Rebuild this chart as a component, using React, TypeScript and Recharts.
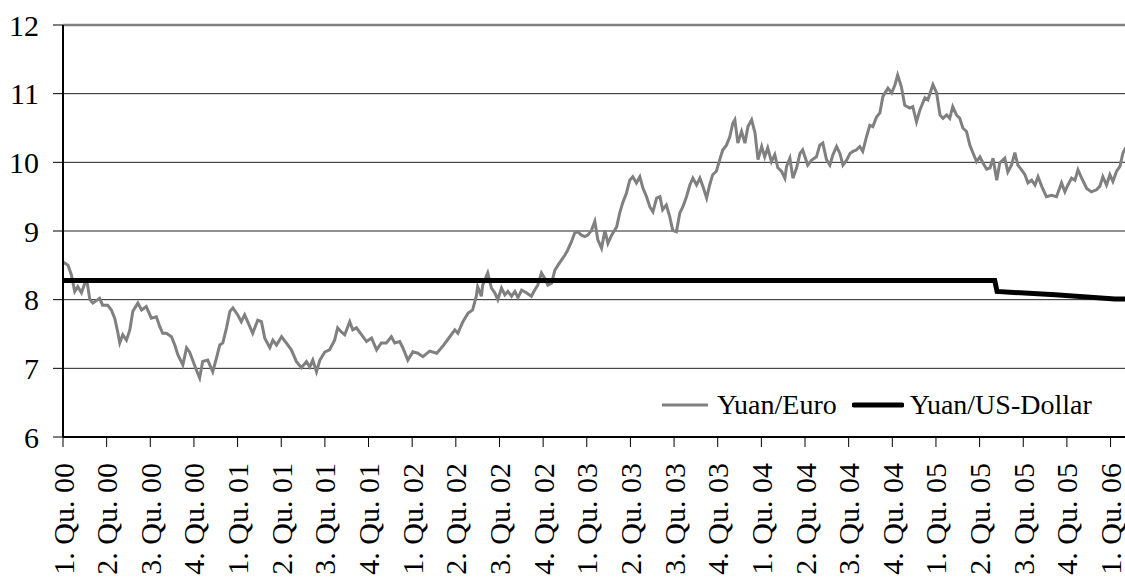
import React from 'react';
import { LineChart, Line, XAxis, YAxis, CartesianGrid, ReferenceLine, Legend } from 'recharts';

const FONT = 'Liberation Serif, Times New Roman, serif';

// x values are in weeks since the start of 2000 (13 weeks per quarter)
const quarterLabels = [
  '1. Qu. 00', '2. Qu. 00', '3. Qu. 00', '4. Qu. 00',
  '1. Qu. 01', '2. Qu. 01', '3. Qu. 01', '4. Qu. 01',
  '1. Qu. 02', '2. Qu. 02', '3. Qu. 02', '4. Qu. 02',
  '1. Qu. 03', '2. Qu. 03', '3. Qu. 03', '4. Qu. 03',
  '1. Qu. 04', '2. Qu. 04', '3. Qu. 04', '4. Qu. 04',
  '1. Qu. 05', '2. Qu. 05', '3. Qu. 05', '4. Qu. 05',
  '1. Qu. 06',
];
const WEEKS_PER_QUARTER = 13;
const xTicks = quarterLabels.map((_, i) => i * WEEKS_PER_QUARTER);
const xDomainEnd = 316.9;
const yTicks = [6, 7, 8, 9, 10, 11, 12];
const gridValues = [7, 8, 9, 10, 11];
const seriesNames = ['Yuan/Euro', 'Yuan/US-Dollar'];

const euro2000 = [[0,8.55],[1.5,8.50],[2.5,8.36],[3.5,8.12],[4.4,8.19],[5.5,8.10],[6.5,8.24],[7.0,8.31],[8.0,8.00],[8.9,7.95],[10.9,8.02],[11.8,7.92],[13.3,7.92],[14.4,7.85],[15.4,7.73],[16.3,7.53],[16.9,7.37],[17.8,7.49],[18.9,7.41],[19.9,7.56],[20.8,7.83],[22.3,7.95],[23.4,7.85],[24.8,7.90],[26.3,7.73],[27.8,7.75],[28.8,7.61],[29.7,7.51],[30.8,7.51],[32.3,7.46],[33.3,7.34],[34.2,7.20],[35.7,7.05],[36.8,7.30],[37.7,7.24],[38.6,7.12],[39.7,6.98],[40.7,6.86],[41.6,7.10],[43.1,7.12],[44.6,6.95],[45.7,7.15],[46.7,7.34],[47.6,7.37],[48.7,7.59],[49.7,7.83],[50.6,7.88]];
const euro2001 = [[52.0,7.78],[53.1,7.68],[54.1,7.78],[55.0,7.68],[56.5,7.51],[58.0,7.70],[59.1,7.68],[60.1,7.44],[61.6,7.30],[62.5,7.41],[63.6,7.34],[65.1,7.46],[66.5,7.37],[68.0,7.27],[69.5,7.10],[71.0,7.01],[72.5,7.10],[73.5,7.02],[74.4,7.12],[75.5,6.95],[76.5,7.12],[78.0,7.24],[79.4,7.27],[80.9,7.41],[81.8,7.59],[82.9,7.53],[83.9,7.49],[85.4,7.68],[86.3,7.56],[87.4,7.59],[88.9,7.49],[90.4,7.39],[91.9,7.44],[93.4,7.27],[94.8,7.37],[96.3,7.37],[97.8,7.46],[98.8,7.37],[100.3,7.39],[101.2,7.30],[102.7,7.12]];
const euro2002 = [[104.2,7.24],[105.7,7.22],[107.2,7.17],[109.2,7.25],[111.3,7.22],[113.1,7.32],[115.2,7.46],[116.7,7.56],[117.6,7.51],[119.1,7.68],[120.6,7.80],[122.0,7.85],[123.1,8.05],[123.5,8.19],[124.6,8.05],[125.0,8.21],[126.5,8.39],[127.6,8.17],[128.6,8.10],[129.5,8.00],[130.6,8.17],[131.6,8.07],[132.5,8.12],[133.6,8.05],[134.6,8.12],[135.5,8.03],[136.6,8.14],[138.0,8.10],[139.5,8.05],[140.5,8.14],[141.4,8.21],[142.5,8.39],[143.5,8.31],[144.4,8.21],[145.5,8.24],[146.5,8.43],[147.4,8.50],[148.5,8.58],[149.5,8.65],[150.3,8.72],[151.4,8.84],[152.4,8.97],[153.3,8.99],[154.4,8.94],[155.4,8.92]];
const euro2003 = [[156.3,8.94],[157.4,9.01],[158.4,9.14],[159.3,8.87],[160.4,8.75],[161.4,9.01],[162.3,8.82],[163.4,8.94],[164.9,9.06],[165.8,9.26],[166.7,9.41],[167.8,9.55],[168.8,9.74],[169.7,9.79],[170.8,9.70],[171.8,9.79],[172.7,9.63],[173.8,9.50],[174.8,9.35],[175.7,9.28],[176.8,9.48],[177.8,9.50],[178.6,9.31],[179.7,9.38],[180.7,9.21],[181.6,9.01],[182.7,8.99],[183.7,9.26],[184.6,9.35],[185.7,9.50],[186.7,9.67],[187.6,9.77],[188.7,9.67],[189.7,9.77],[190.6,9.65],[191.7,9.48],[192.6,9.67],[193.5,9.82],[194.6,9.87],[195.6,10.04],[196.5,10.18],[197.6,10.25],[198.6,10.37],[199.5,10.57],[200.1,10.62],[201.0,10.28],[202.1,10.45],[203.1,10.28],[204.0,10.52],[205.1,10.62],[206.1,10.43],[207.0,10.04]];
const euro2004 = [[208.1,10.23],[209.0,10.08],[209.9,10.21],[211.0,10.01],[212.0,10.11],[212.9,9.92],[214.0,9.87],[215.0,9.77],[215.5,9.94],[216.5,10.06],[217.4,9.77],[218.5,9.92],[219.5,10.13],[220.3,10.18],[221.8,9.96],[222.9,10.03],[224.4,10.08],[225.4,10.25],[226.3,10.28],[227.4,10.04],[228.4,9.96],[229.3,10.11],[230.4,10.23],[231.4,10.13],[232.3,9.96],[233.4,10.03],[234.4,10.13],[235.3,10.16],[236.3,10.18],[237.3,10.23],[238.2,10.16],[239.3,10.37],[240.3,10.54],[241.2,10.52],[242.3,10.66],[243.3,10.72],[244.2,10.96],[245.7,11.08],[246.8,11.01],[247.8,11.13],[248.6,11.27],[249.7,11.10],[250.7,10.83],[252.2,10.79],[253.1,10.81],[254.2,10.59],[255.2,10.76],[256.7,10.94],[257.6,10.91],[259.1,11.13]];
const euro2005 = [[260.2,11.01],[261.2,10.69],[262.1,10.64],[263.2,10.69],[264.1,10.64],[265.0,10.81],[266.1,10.69],[267.1,10.64],[268.0,10.50],[269.1,10.45],[270.1,10.25],[271.0,10.14],[272.1,10.01],[273.1,10.08],[274.0,9.99],[275.1,9.90],[276.1,9.92],[277.0,10.06],[278.1,9.74],[279.0,9.99],[280.5,10.06],[281.4,9.86],[282.5,9.96],[283.5,10.14],[284.4,9.96],[285.5,9.89],[286.5,9.82],[287.4,9.70],[288.5,9.74],[289.5,9.67],[290.4,9.79],[291.5,9.65],[292.9,9.50],[294.4,9.52],[295.9,9.50],[297.4,9.70],[298.4,9.57],[299.3,9.67],[300.4,9.77],[301.4,9.74],[302.3,9.89],[303.4,9.77],[304.9,9.62],[306.3,9.57],[307.8,9.60],[308.8,9.65],[309.7,9.79],[310.8,9.67],[311.8,9.82]];
const euro2006 = [[312.7,9.72],[313.8,9.87],[314.8,9.94],[315.7,10.14],[316.6,10.22]];

const usdRates = [[0,8.28],[277.5,8.28],[278.2,8.12],[295.5,8.07],[313.3,8.01],[316.9,8.01]];

const euroData = [...euro2000, ...euro2001, ...euro2002, ...euro2003, ...euro2004, ...euro2005, ...euro2006]
  .map(([w, v]) => ({ w, v }));
const usdData = usdRates.map(([w, v]) => ({ w, v }));

const XTick = (props: any) => {
  const { x, y, payload } = props;
  const label = quarterLabels[Math.round(payload.value / WEEKS_PER_QUARTER)];
  return (
    <text
      x={x}
      y={y}
      transform={`rotate(-90 ${x} ${y})`}
      textAnchor="end"
      dominantBaseline="central"
      fontFamily={FONT}
      fontSize={30}
      fill="#000"
    >
      {label}
    </text>
  );
};

const LegendContent = () => (
  <div
    style={{
      display: 'flex',
      alignItems: 'center',
      fontFamily: FONT,
      fontSize: 28,
      color: '#000',
      whiteSpace: 'nowrap',
      lineHeight: 1,
    }}
  >
    <svg width={46} height={10}>
      <line x1={0} y1={5} x2={46} y2={5} stroke="#808080" strokeWidth={3} />
    </svg>
    <span style={{ marginLeft: 9 }}>{seriesNames[0]}</span>
    <svg width={52} height={10} style={{ marginLeft: 15 }}>
      <line x1={2} y1={5} x2={50} y2={5} stroke="#000" strokeWidth={5} strokeLinecap="round" />
    </svg>
    <span style={{ marginLeft: 6 }}>{seriesNames[1]}</span>
  </div>
);

export default function App() {
  return (
    <div
      style={{
        position: 'absolute',
        left: 0,
        top: 0,
        width: 1125,
        height: 581,
        overflow: 'hidden',
        background: '#fff',
      }}
    >
      <LineChart
        width={1160}
        height={620}
        margin={{ top: 25, right: 33, bottom: 33, left: 0 }}
      >
        <CartesianGrid horizontal vertical={false} horizontalValues={gridValues} stroke="#222" strokeWidth={1} />
        <ReferenceLine y={12} stroke="#808080" strokeWidth={2.5} ifOverflow="extendDomain" />
        <XAxis
          dataKey="w"
          type="number"
          domain={[0, xDomainEnd]}
          ticks={xTicks}
          interval={0}
          allowDataOverflow
          height={150}
          tickSize={10}
          tickMargin={16}
          axisLine={{ stroke: '#000', strokeWidth: 2 }}
          tickLine={{ stroke: '#000', strokeWidth: 1 }}
          tick={<XTick />}
        />
        <YAxis
          type="number"
          domain={[6, 12]}
          ticks={yTicks}
          interval={0}
          width={63}
          tickSize={10}
          tickMargin={14}
          axisLine={{ stroke: '#000', strokeWidth: 2 }}
          tickLine={{ stroke: '#000', strokeWidth: 1 }}
          tick={{ fontSize: 30, fill: '#000', fontFamily: FONT }}
        />
        <Legend
          layout="horizontal"
          verticalAlign="middle"
          align="center"
          content={<LegendContent />}
          wrapperStyle={{ left: 662, top: 391, width: 470, height: 30 }}
        />
        <Line
          data={euroData}
          dataKey="v"
          name={seriesNames[0]}
          type="linear"
          stroke="#808080"
          strokeWidth={3}
          dot={false}
          activeDot={false}
          isAnimationActive={false}
        />
        <Line
          data={usdData}
          dataKey="v"
          name={seriesNames[1]}
          type="linear"
          stroke="#000"
          strokeWidth={5}
          dot={false}
          activeDot={false}
          isAnimationActive={false}
        />
      </LineChart>
    </div>
  );
}
